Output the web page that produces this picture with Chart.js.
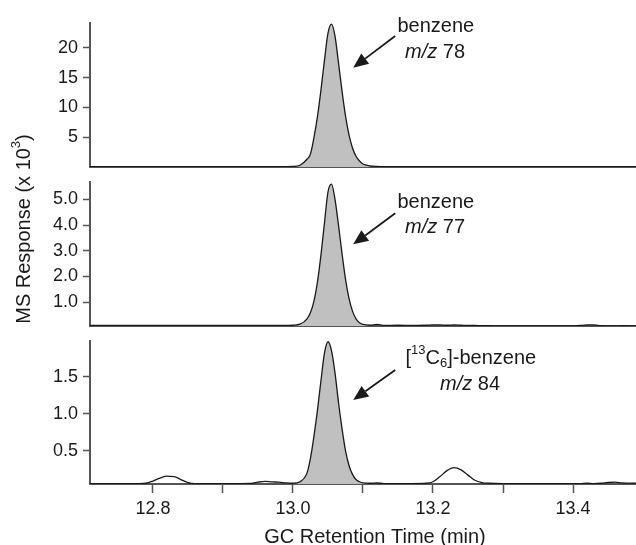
<!DOCTYPE html>
<html>
<head>
<meta charset="utf-8">
<script src="https://cdn.jsdelivr.net/npm/chart.js@4.4.1/dist/chart.umd.min.js"></script>
<style>
  html, body { margin: 0; padding: 0; background: #fff; }
  #caja { position: relative; width: 636px; height: 545px; }
  #caja canvas { position: absolute; left: 0; top: 0; }
</style>
</head>
<body>
<div id="caja">
  <canvas id="g_mz78" width="636" height="545"></canvas>
  <canvas id="g_mz77" width="636" height="545"></canvas>
  <canvas id="g_mz84" width="636" height="545"></canvas>
</div>
<script>
// tiempos de retencion (min), comunes a los tres cromatogramas
let tiempos = [
  12.71, 12.75, 12.78, 12.79, 12.80, 12.81, 12.82, 12.83, 12.84, 12.85,
  12.86, 12.90, 12.94, 12.95, 12.96, 12.97, 12.98, 12.99, 13.00, 13.01,
  13.02, 13.025, 13.03, 13.035, 13.04, 13.045, 13.05, 13.055, 13.06, 13.065,
  13.07, 13.075, 13.08, 13.085, 13.09, 13.095, 13.10, 13.11, 13.12, 13.13,
  13.15, 13.17, 13.19, 13.20, 13.21, 13.22, 13.23, 13.24, 13.25, 13.26,
  13.27, 13.28, 13.30, 13.35, 13.40, 13.41, 13.42, 13.43, 13.44, 13.45,
  13.46, 13.47, 13.49
];

// respuesta MS (x 10^3)
let mz78 = [
  0.06, 0.06, 0.06, 0.06, 0.06, 0.06, 0.06, 0.06, 0.06, 0.06,
  0.06, 0.06, 0.06, 0.06, 0.06, 0.06, 0.06, 0.06, 0.08, 0.30,
  1.3, 2.2, 5.0, 8.5, 13.0, 18.0, 22.5, 24.0, 22.0, 17.5,
  12.8, 8.6, 5.4, 3.2, 1.8, 1.0, 0.5, 0.2, 0.1, 0.06,
  0.06, 0.06, 0.06, 0.06, 0.06, 0.06, 0.06, 0.06, 0.06, 0.06,
  0.06, 0.06, 0.06, 0.06, 0.06, 0.06, 0.06, 0.06, 0.06, 0.06,
  0.06, 0.06, 0.06
];

let mz77 = [
  0.09, 0.09, 0.09, 0.09, 0.09, 0.09, 0.09, 0.09, 0.09, 0.09,
  0.09, 0.09, 0.09, 0.09, 0.09, 0.09, 0.09, 0.09, 0.10, 0.14,
  0.35, 0.6, 1.05, 1.8, 2.85, 4.1, 5.3, 5.6, 5.0, 4.0,
  2.9, 1.9, 1.15, 0.65, 0.35, 0.2, 0.13, 0.10, 0.13, 0.09,
  0.10, 0.09, 0.10, 0.11, 0.11, 0.10, 0.11, 0.10, 0.09, 0.09,
  0.08, 0.08, 0.07, 0.07, 0.07, 0.09, 0.11, 0.11, 0.08, 0.07,
  0.07, 0.08, 0.07
];

let mz84 = [
  0.055, 0.055, 0.055, 0.06, 0.09, 0.13, 0.155, 0.15, 0.11, 0.07,
  0.055, 0.055, 0.058, 0.075, 0.085, 0.078, 0.075, 0.065, 0.06, 0.08,
  0.2, 0.4, 0.7, 1.05, 1.45, 1.82, 1.97, 1.85, 1.55, 1.15,
  0.8, 0.5, 0.3, 0.18, 0.11, 0.08, 0.065, 0.06, 0.065, 0.055,
  0.055, 0.055, 0.06, 0.08, 0.15, 0.23, 0.27, 0.24, 0.17, 0.10,
  0.07, 0.06, 0.055, 0.055, 0.055, 0.055, 0.06, 0.055, 0.06, 0.07,
  0.075, 0.065, 0.06
];

// tramo del pico de benceno que va relleno
let tramo_pico = [13.00, 13.11];

let x_ticks = [12.8, 12.9, 13.0, 13.1, 13.2, 13.3, 13.4];
let x_etiquetas = ["12.8", "", "13.0", "", "13.2", "", "13.4"];
let y_ticks_78 = [5, 10, 15, 20];
let y_etiquetas_78 = ["5", "10", "15", "20"];
let y_ticks_77 = [1, 2, 3, 4, 5];
let y_etiquetas_77 = ["1.0", "2.0", "3.0", "4.0", "5.0"];
let y_ticks_84 = [0.5, 1.0, 1.5];
let y_etiquetas_84 = ["0.5", "1.0", "1.5"];

let fuente = "'Liberation Sans', Arial, Helvetica, sans-serif";
let tinta = "#1a1a1a";
let eje = "#555555";

function puntos(valores){
    return tiempos.map((t, i) => ({x: t, y: valores[i]}));
}

function flecha(ctx, x1, y1, x2, y2){
    let ang = Math.atan2(y2 - y1, x2 - x1);
    let largo = 15, ancho = 6.5;
    let bx = x2 - largo * Math.cos(ang), by = y2 - largo * Math.sin(ang);
    ctx.lineWidth = 1.8;
    ctx.beginPath();
    ctx.moveTo(x1, y1);
    ctx.lineTo(bx, by);
    ctx.stroke();
    ctx.beginPath();
    ctx.moveTo(x2, y2);
    ctx.lineTo(bx + ancho * Math.sin(ang), by - ancho * Math.cos(ang));
    ctx.lineTo(bx - ancho * Math.sin(ang), by + ancho * Math.cos(ang));
    ctx.closePath();
    ctx.fill();
}

// texto con cursiva, superindice y subindice, centrado en (cx, cy)
function linea_rica(ctx, partes, cx, cy){
    let estilos = {
        n: {f: "20px " + fuente, dy: 0},
        i: {f: "italic 20px " + fuente, dy: 0},
        sup: {f: "13px " + fuente, dy: -8},
        sub: {f: "13px " + fuente, dy: 5}
    };
    let total = 0;
    partes.forEach(p => { ctx.font = estilos[p[1]].f; total += ctx.measureText(p[0]).width; });
    let x = cx - total / 2;
    ctx.textAlign = "left";
    ctx.textBaseline = "middle";
    partes.forEach(p => {
        ctx.font = estilos[p[1]].f;
        ctx.fillText(p[0], x, cy + estilos[p[1]].dy);
        x += ctx.measureText(p[0]).width;
    });
}

let notas = {
    id: "notas",
    afterDraw(chart, args, o){
        let ctx = chart.ctx;
        let xs = chart.scales.x, ys = chart.scales.y;
        ctx.save();
        ctx.fillStyle = tinta;
        ctx.strokeStyle = tinta;
        if (o.flecha) {
            let a = o.flecha;
            flecha(ctx, xs.getPixelForValue(a[0]), ys.getPixelForValue(a[1]),
                        xs.getPixelForValue(a[2]), ys.getPixelForValue(a[3]));
        }
        (o.lineas || []).forEach(l => {
            linea_rica(ctx, l.partes, xs.getPixelForValue(l.x), ys.getPixelForValue(l.y));
        });
        if (o.titulo_y) {
            ctx.save();
            ctx.translate(o.titulo_y.x, o.titulo_y.y);
            ctx.rotate(-Math.PI / 2);
            linea_rica(ctx, [["MS Response (x 10", "n"], ["3", "sup"], [")", "n"]], 0, 0);
            ctx.restore();
        }
        if (o.titulo_x) {
            linea_rica(ctx, [["GC Retention Time (min)", "n"]], o.titulo_x.x, o.titulo_x.y);
        }
        ctx.restore();
    }
};

function grafico(id, valores, y_min, y_max, y_ticks, y_etiquetas, relleno, abajo, extras){
    let pico = puntos(valores).filter(p => p.x >= tramo_pico[0] && p.x <= tramo_pico[1]);
    let ctx = document.getElementById(id).getContext("2d");
    return new Chart(ctx, {
        type: "line",
        data: {
            datasets: [
                {
                    data: puntos(valores),
                    borderColor: tinta,
                    borderWidth: 1.3,
                    pointRadius: 0,
                    fill: false,
                    cubicInterpolationMode: "monotone"
                },
                {
                    data: pico,
                    borderWidth: 0,
                    borderColor: "rgba(0,0,0,0)",
                    backgroundColor: "#c0c0c0",
                    pointRadius: 0,
                    fill: "start",
                    cubicInterpolationMode: "monotone"
                }
            ]
        },
        plugins: [notas],
        options: {
            responsive: false,
            animation: false,
            devicePixelRatio: 1,
            layout: {
                padding: relleno
            },
            plugins: {
                legend: { display: false },
                tooltip: { enabled: false },
                notas: extras
            },
            scales: {
                x: {
                    type: "linear",
                    min: 12.71,
                    max: 13.49,
                    afterBuildTicks: function(s){ s.ticks = x_ticks.map(v => ({value: v})); },
                    afterFit: function(s){ s.height = abajo ? 57 : 0; },
                    border: { display: true, color: eje, width: 2 },
                    grid: {
                        display: abajo,
                        drawOnChartArea: false,
                        tickLength: 9,
                        tickColor: eje,
                        tickWidth: 1.5
                    },
                    ticks: {
                        display: abajo,
                        autoSkip: false,
                        maxRotation: 0,
                        padding: 5,
                        color: tinta,
                        font: { family: fuente, size: 18 },
                        callback: function(v, i){ return x_etiquetas[i]; }
                    }
                },
                y: {
                    min: y_min,
                    max: y_max,
                    afterBuildTicks: function(s){ s.ticks = y_ticks.map(v => ({value: v})); },
                    afterFit: function(s){ s.width = 90; },
                    border: { display: true, color: eje, width: 2 },
                    grid: {
                        drawOnChartArea: false,
                        tickLength: 7,
                        tickColor: eje,
                        tickWidth: 1.5
                    },
                    ticks: {
                        autoSkip: false,
                        padding: 5,
                        color: tinta,
                        font: { family: fuente, size: 18 },
                        callback: function(v, i){ return y_etiquetas[i]; }
                    }
                }
            }
        }
    });
}

grafico("g_mz78", mz78, 0, 24.2, y_ticks_78, y_etiquetas_78,
    {top: 23, bottom: 378, left: 0, right: 0}, false,
    {
        flecha: [13.146, 22.0, 13.086, 16.7],
        lineas: [
            {x: 13.204, y: 23.6, partes: [["benzene", "n"]]},
            {x: 13.203, y: 19.2, partes: [["m/z", "i"], [" 78", "n"]]}
        ]
    });

grafico("g_mz77", mz77, 0.07, 5.68, y_ticks_77, y_etiquetas_77,
    {top: 182, bottom: 219, left: 0, right: 0}, false,
    {
        flecha: [13.146, 4.46, 13.086, 3.25],
        lineas: [
            {x: 13.204, y: 4.89, partes: [["benzene", "n"]]},
            {x: 13.203, y: 3.92, partes: [["m/z", "i"], [" 77", "n"]]}
        ],
        titulo_y: {x: 24, y: 229}
    });

grafico("g_mz84", mz84, 0.05, 1.98, y_ticks_84, y_etiquetas_84,
    {top: 341, bottom: 4, left: 0, right: 0}, true,
    {
        flecha: [13.146, 1.59, 13.086, 1.185],
        lineas: [
            {x: 13.254, y: 1.74, partes: [["[", "n"], ["13", "sup"], ["C", "n"], ["6", "sub"], ["]-benzene", "n"]]},
            {x: 13.253, y: 1.39, partes: [["m/z", "i"], [" 84", "n"]]}
        ],
        titulo_x: {x: 375, y: 537}
    });
</script>
</body>
</html>
